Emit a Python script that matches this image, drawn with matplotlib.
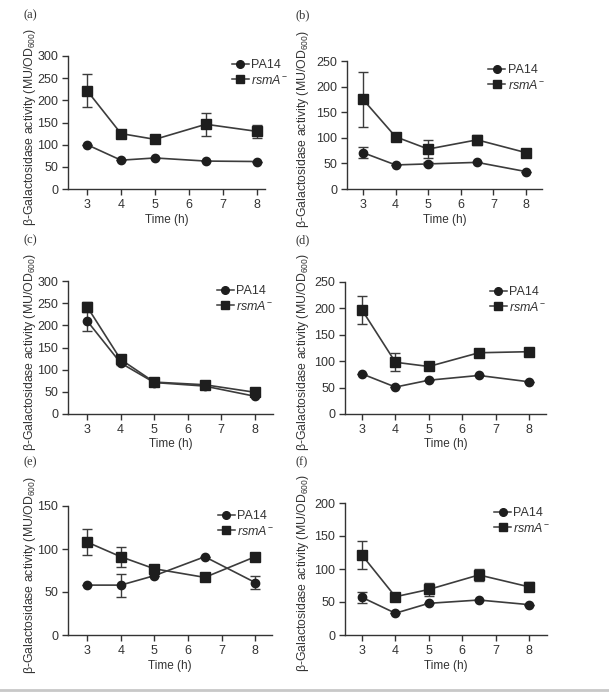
import matplotlib
matplotlib.use("Agg")
import matplotlib.pyplot as plt
from matplotlib.lines import Line2D

plt.rcParams['font.family'] = ['Liberation Sans', 'DejaVu Sans']
plt.rcParams['mathtext.fontset'] = 'custom'
plt.rcParams['mathtext.rm'] = 'Liberation Sans'
plt.rcParams['mathtext.it'] = 'Liberation Sans:italic'
plt.rcParams['mathtext.bf'] = 'Liberation Sans:bold'

# ---- data ----
time_h = [3, 4, 5, 6.5, 8]
xticks = [3, 4, 5, 6, 7, 8]

a_pa14 = [100, 65, 70, 63, 62]
a_pa14_err = [0, 0, 0, 0, 0]
a_rsma = [222, 125, 112, 146, 130]
a_rsma_err = [38, 0, 5, 26, 15]

b_pa14 = [71, 47, 49, 52, 34]
b_pa14_err = [11, 0, 3, 0, 0]
b_rsma = [175, 102, 78, 96, 71]
b_rsma_err = [54, 0, 17, 10, 0]

c_pa14 = [210, 115, 71, 63, 40]
c_pa14_err = [23, 5, 0, 0, 0]
c_rsma = [242, 123, 72, 66, 49]
c_rsma_err = [11, 5, 3, 0, 0]

d_pa14 = [76, 51, 64, 73, 61]
d_pa14_err = [0, 0, 0, 0, 0]
d_rsma = [197, 98, 90, 116, 118]
d_rsma_err = [27, 17, 0, 5, 6]

e_pa14 = [58, 58, 69, 91, 61]
e_pa14_err = [0, 13.5, 0, 0, 7.5]
e_rsma = [108, 91, 77, 67, 91]
e_rsma_err = [15, 11.5, 3, 0, 4]

f_pa14 = [57, 33, 48, 53, 46]
f_pa14_err = [8.5, 0, 0, 0, 0]
f_rsma = [121, 58, 69, 91, 73]
f_rsma_err = [21.5, 0, 9.5, 9, 7]

panel_labels = ['(a)', '(b)', '(c)', '(d)', '(e)', '(f)']
ylims = [300, 250, 300, 250, 150, 200]
yticks = [list(range(0, 301, 50)), list(range(0, 251, 50)), list(range(0, 301, 50)),
          list(range(0, 251, 50)), list(range(0, 151, 50)), list(range(0, 201, 50))]
series_names = ['PA14', r'$rsmA^{-}$']
ylabel = r'β-Galactosidase activity (MU/OD$_{600}$)'
xlabel = 'Time (h)'

data = [(a_pa14, a_pa14_err, a_rsma, a_rsma_err),
        (b_pa14, b_pa14_err, b_rsma, b_rsma_err),
        (c_pa14, c_pa14_err, c_rsma, c_rsma_err),
        (d_pa14, d_pa14_err, d_rsma, d_rsma_err),
        (e_pa14, e_pa14_err, e_rsma, e_rsma_err),
        (f_pa14, f_pa14_err, f_rsma, f_rsma_err)]

# ---- layout (pixels: left, top, right, bottom) ----
W, H = 609, 696
boxes = [(68, 56, 265, 189), (347, 61, 542, 189),
         (68, 281, 273, 414), (345, 282, 546, 414),
         (68, 506, 272, 635), (345, 503, 547, 635)]
xlims = [(2.44, 8.24), (2.51, 8.49), (2.43, 8.54), (2.49, 8.51), (2.43, 8.5), (2.49, 8.54)]
leg_anchor = [(0.832, 0.975), (0.724, 0.975), (0.727, 0.968), (0.721, 0.968), (0.735, 0.967), (0.738, 0.968)]
label_pos = [(23, 15), (296, 15), (23, 240), (296, 240), (23, 462), (296, 462)]
ylabel_x = [30, 303, 30, 303, 30, 303]

fig = plt.figure(figsize=(W / 100, H / 100), dpi=100)
TXT = '#333333'
LINE = '#3c3c3c'
MK = '#1e1e1e'
fs = 9

for i, (box, d) in enumerate(zip(boxes, data)):
    l, t, r, b = box
    ax = fig.add_axes([l / W, 1 - b / H, (r - l) / W, (b - t) / H])
    p, pe, s, se = d
    ax.errorbar(time_h, p, yerr=pe, color=LINE, lw=1.2, marker='o', ms=6,
                mfc=MK, mec=MK, ecolor=LINE, elinewidth=1.0, capsize=3.5, capthick=1.0,
                label=series_names[0], zorder=3)
    ax.errorbar(time_h, s, yerr=se, color=LINE, lw=1.2, marker='s', ms=6.5,
                mfc=MK, mec=MK, ecolor=LINE, elinewidth=1.0, capsize=3.5, capthick=1.0,
                label=series_names[1], zorder=3)
    ax.set_xlim(*xlims[i])
    ax.set_ylim(0, ylims[i])
    ax.set_xticks(xticks)
    ax.set_yticks(yticks[i])
    for sp in ['top', 'right']:
        ax.spines[sp].set_visible(False)
    for sp in ['left', 'bottom']:
        ax.spines[sp].set_color('#333333')
        ax.spines[sp].set_linewidth(1.0)
    ax.tick_params(direction='out', length=4, width=1.0, color='#333333',
                   labelsize=fs, labelcolor=TXT, pad=3)
    ax.set_xlabel(xlabel, fontsize=fs - 0.5, color=TXT, labelpad=2)
    ax.set_facecolor('none')

    handles = [Line2D([], [], color=LINE, lw=1.1, marker='o', ms=5.5, mfc=MK, mec=MK),
               Line2D([], [], color=LINE, lw=1.1, marker='s', ms=5.5, mfc=MK, mec=MK)]
    ax.legend(handles, series_names, loc='upper left', bbox_to_anchor=leg_anchor[i],
              frameon=False, borderaxespad=0, borderpad=0, handlelength=1.35,
              handletextpad=0.2, labelspacing=0.2, fontsize=fs, labelcolor=TXT)

    cy = (t + b) / 2 + 4
    fig.text(ylabel_x[i] / W, 1 - cy / H, ylabel, rotation=90, ha='center', va='center',
             fontsize=8.8, color=TXT)
    lx, ly = label_pos[i]
    fig.text(lx / W, 1 - ly / H, panel_labels[i], ha='left', va='center',
             fontsize=9, color=TXT, family='Liberation Serif')

fig.add_artist(Line2D([0, 1], [1 - 690 / H, 1 - 690 / H], transform=fig.transFigure,
                      color='#c8c8c8', lw=2))

fig.savefig('out.png', dpi=100)
